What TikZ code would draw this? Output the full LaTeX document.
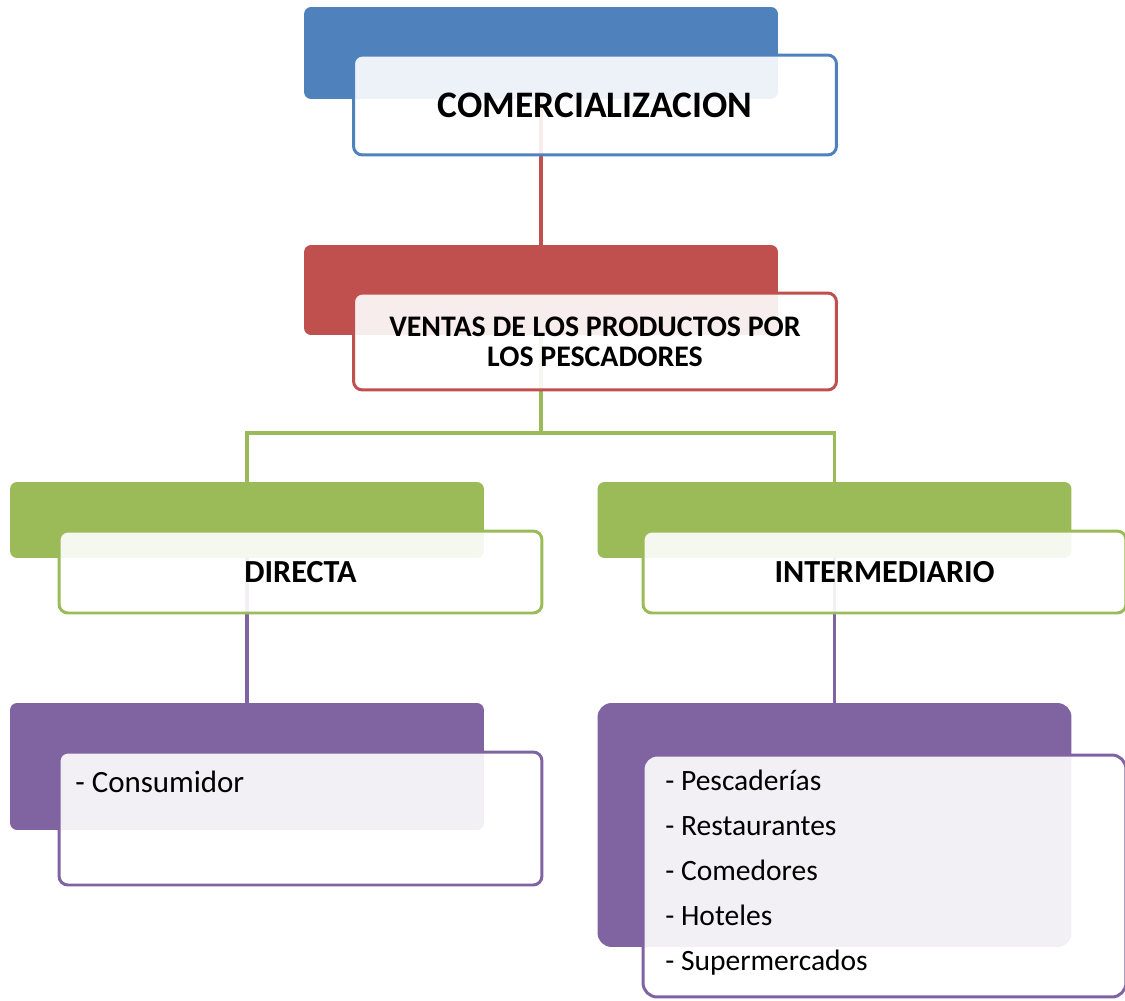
\documentclass[tikz,border=0pt]{standalone}
\usepackage{fontspec}
\setmainfont{Carlito}
\usetikzlibrary{positioning, backgrounds}
\definecolor{offblue}{HTML}{4F81BD}
\definecolor{offred}{HTML}{C0504D}
\definecolor{offgreen}{HTML}{9BBB59}
\definecolor{offpurple}{HTML}{8064A2}

\begin{document}
\begin{tikzpicture}[
    x=0.02cm, y=-0.02cm,
    backbox/.style={rectangle, minimum width=9.48cm, rounded corners=4pt, inner sep=0pt},
    frontbox/.style={rectangle, draw, line width=1.7pt, fill=white, fill opacity=0.9,
                     text opacity=1, minimum width=9.66cm, rounded corners=5pt,
                     align=center, inner sep=0pt},
    titletext/.style={font=\fontsize{21.3}{24}\selectfont\bfseries},
    headtext/.style={font=\fontsize{18.3}{21}\selectfont\bfseries},
    itemtext/.style={font=\fontsize{16.8}{25.6}\selectfont, align=left, anchor=west, inner sep=0pt},
    link/.style={line width=2.2pt}
]
\useasboundingbox (0,0) rectangle (1125,1000);

% Level 1
\node[backbox, fill=offblue, minimum height=1.84cm] at (541,53) (comBack) {};
\node[frontbox, draw=offblue, minimum height=2cm, titletext] at (595,105) (comFront) {COMERCIALIZACION};

% Level 2
\node[backbox, fill=offred, minimum height=1.8cm] at (541,290) (venBack) {};
\node[frontbox, draw=offred, minimum height=1.94cm, font=\fontsize{17}{17}\selectfont\bfseries] at (595,341.5) (venFront)
    {VENTAS DE LOS PRODUCTOS POR\\LOS PESCADORES};

% Level 3
\node[backbox, fill=offgreen, minimum height=1.52cm] at (247,520) (dirBack) {};
\node[frontbox, draw=offgreen, minimum height=1.64cm, headtext] at (300.5,572) (dirFront) {DIRECTA};
\node[backbox, fill=offgreen, minimum height=1.52cm] at (834.5,520) (intBack) {};
\node[frontbox, draw=offgreen, minimum height=1.64cm, headtext] at (884.5,572) (intFront) {INTERMEDIARIO};

% Level 4
\node[backbox, fill=offpurple, minimum height=2.54cm] at (247,766.5) (conBack) {};
\node[frontbox, draw=offpurple, minimum height=2.66cm] at (300.5,818.5) (conFront) {};
\node[backbox, fill=offpurple, minimum height=4.88cm, rounded corners=8pt] at (834.5,825) (interBack) {};
\node[frontbox, draw=offpurple, minimum height=4.84cm, rounded corners=8pt] at (884.5,876) (interFront) {};

% Lists
\node[itemtext, font=\fontsize{17.6}{21}\selectfont] at (75,782) (conText) {- Consumidor};
\node[itemtext] at (665,873) (interText)
    {- Pescaderías\\- Restaurantes\\- Comedores\\- Hoteles\\- Supermercados};

% Connectors
\begin{pgfonlayer}{background}
\coordinate (split) at (541,433);
\draw[link, offred] (comBack.center) -- (venBack.center);
\draw[link, offgreen] (venBack.center) -- (split) -| (dirBack.center);
\draw[link, offgreen] (split) -| (intBack.center);
\draw[link, offpurple] (dirBack.center) -- (conBack.center);
\draw[link, offpurple] (intBack.center) -- (interBack.center);
\end{pgfonlayer}

\end{tikzpicture}
\end{document}
